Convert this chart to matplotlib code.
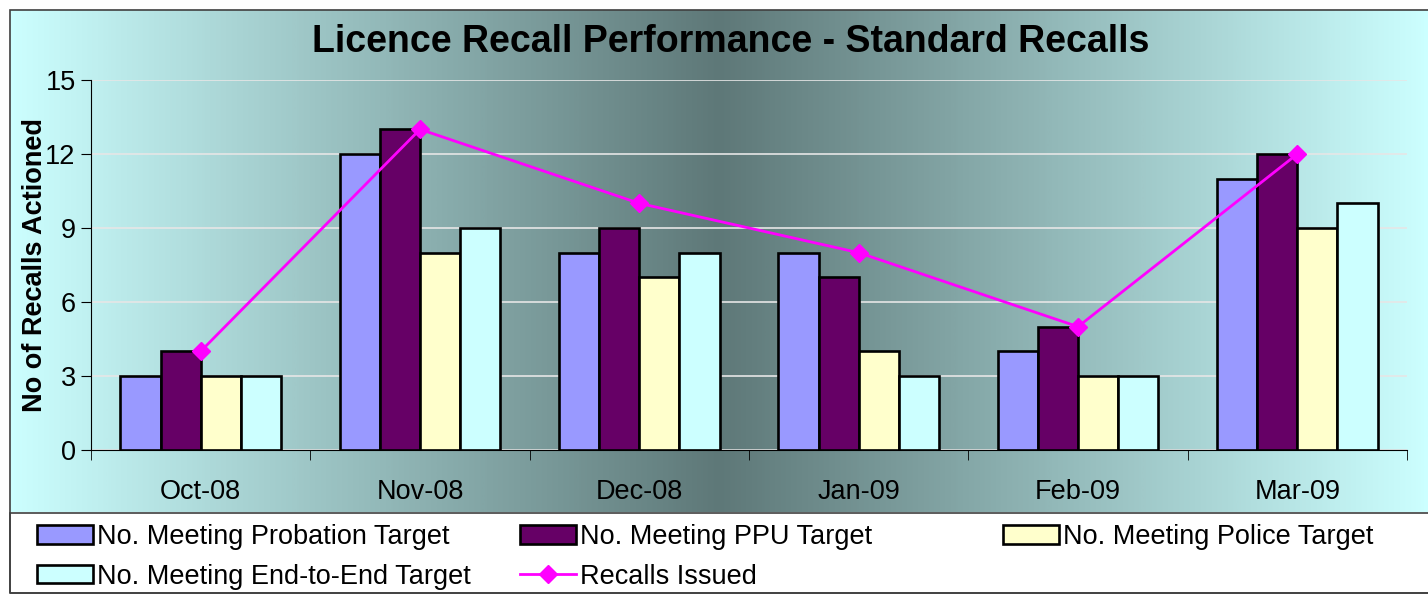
import numpy as np
import matplotlib
matplotlib.use("Agg")
import matplotlib.pyplot as plt
import matplotlib.patches as mpatches
from matplotlib.colors import LinearSegmentedColormap

plt.rcParams['font.family'] = ['Liberation Sans', 'DejaVu Sans']

months = ['Oct-08', 'Nov-08', 'Dec-08', 'Jan-09', 'Feb-09', 'Mar-09']
probation = [3, 12, 8, 8, 4, 11]
ppu = [4, 13, 9, 7, 5, 12]
police = [3, 8, 7, 4, 3, 9]
end_to_end = [3, 9, 8, 3, 3, 10]
recalls = [4, 13, 10, 8, 5, 12]

W, H = 1428, 595
fig = plt.figure(figsize=(W / 100, H / 100), dpi=100)

def fx(px):
    return px / W

def fy(py):
    return 1 - py / H

# gradient chart area background
bg = fig.add_axes([fx(10), fy(512), fx(1428) - fx(10), fy(10) - fy(512)], zorder=-2)
cmap = LinearSegmentedColormap.from_list('g', ['#CCFFFF', '#5E7878', '#CCFFFF'])
grad = np.linspace(0, 1, 512).reshape(1, -1)
bg.imshow(grad, aspect='auto', cmap=cmap, extent=[0, 1, 0, 1])
bg.set_axis_off()

# legend box + outer border
fig.patches.append(mpatches.Rectangle((fx(10), fy(593)), 1.0, fy(513) - fy(593),
                                      transform=fig.transFigure, facecolor='white',
                                      edgecolor='#404040', lw=1.2, zorder=-1))
fig.patches.append(mpatches.Rectangle((fx(10), fy(593)), 1.0, fy(10) - fy(593),
                                      transform=fig.transFigure, facecolor='none',
                                      edgecolor='#404040', lw=1.2, zorder=5))

ax = fig.add_axes([fx(91), fy(450), fx(1407) - fx(91), fy(80) - fy(450)])
ax.patch.set_alpha(0)

x = np.arange(len(months))
w = 0.183
series = [(probation, '#9999FF', 'No. Meeting Probation Target'),
          (ppu, '#660066', 'No. Meeting PPU Target'),
          (police, '#FFFFCC', 'No. Meeting Police Target'),
          (end_to_end, '#CCFFFF', 'No. Meeting End-to-End Target')]
for i, (vals, col, lab) in enumerate(series):
    ax.bar(x + (i - 1.5) * w, vals, w, color=col, edgecolor='black', lw=1.9, zorder=3, label=lab)

ax.plot(x, recalls, color='#FF00FF', lw=2, marker='D', markersize=9.5, zorder=4,
        label='Recalls Issued')

ax.set_xlim(-0.5, 5.5)
ax.set_ylim(0, 15)
ax.set_yticks([0, 3, 6, 9, 12, 15])
ax.yaxis.grid(True, color='#E6E6E6', lw=1.2, zorder=0)
ax.set_axisbelow(True)
ax.set_xticks(x)
ax.set_xticklabels(months)
ax.set_xticks(np.arange(-0.5, 6), minor=True)
ax.tick_params(axis='x', which='major', length=0, pad=21, labelsize=19.5)
ax.tick_params(axis='x', which='minor', length=7, direction='out')
ax.tick_params(axis='y', length=7, labelsize=19.5, pad=4)
for s in ['top', 'right']:
    ax.spines[s].set_visible(False)

ax.set_ylabel('No of Recalls Actioned', fontsize=19.5, fontweight='bold', labelpad=-2)
fig.text(0.512, fy(42), 'Licence Recall Performance - Standard Recalls', ha='center',
         va='center', fontsize=27, fontweight='bold')

handles, labels = ax.get_legend_handles_labels()
hmap = dict(zip(labels, handles))
cols = [(['No. Meeting Probation Target', 'No. Meeting End-to-End Target'], 37),
        (['No. Meeting PPU Target', 'Recalls Issued'], 520),
        (['No. Meeting Police Target'], 1003)]
for labs, px in cols:
    fig.legend([hmap[l] for l in labs], labs, loc='upper left',
               bbox_to_anchor=(fx(px), fy(524)), frameon=False, fontsize=19.5,
               handlelength=2.05, handleheight=0.65, handletextpad=0.15, labelspacing=0.5,
               borderaxespad=0, borderpad=0)

fig.savefig('out.png', dpi=100)
